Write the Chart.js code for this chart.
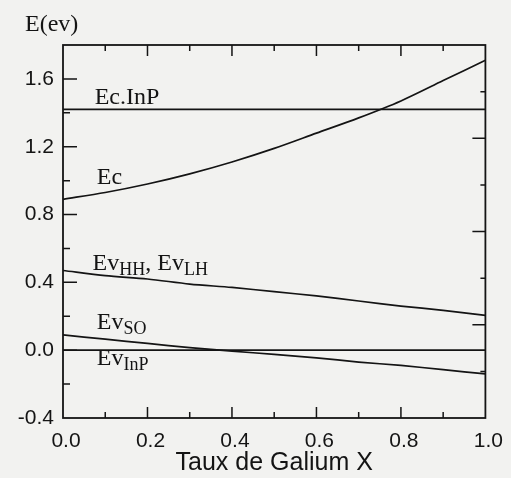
<!DOCTYPE html>
<html>
<head>
<meta charset="utf-8">
<script src="https://cdn.jsdelivr.net/npm/chart.js@4.4.1/dist/chart.umd.min.js"></script>
<style>
  html, body { margin: 0; padding: 0; background: #f2f2f0; }
  canvas { display: block; }
</style>
</head>
<body>
<canvas id="bands" width="511" height="478"></canvas>
<script>
// ====== DATA ======
const galium = [0, 0.1, 0.2, 0.3, 0.4, 0.5, 0.6, 0.7, 0.8, 0.9, 1.0];
const ec   = [0.89, 0.93, 0.98, 1.04, 1.11, 1.19, 1.28, 1.37, 1.47, 1.59, 1.71];
const evHH = [0.47, 0.44, 0.42, 0.39, 0.37, 0.345, 0.32, 0.29, 0.26, 0.235, 0.205];
const evSO = [0.09, 0.065, 0.04, 0.015, -0.005, -0.025, -0.045, -0.07, -0.09, -0.115, -0.14];

// flat InP levels, only the two ends
const galiumEnds = [0, 1];
const ecInP = [1.42, 1.42];
const evInP = [0, 0];

const xTickLabels = [0, 0.2, 0.4, 0.6, 0.8, 1.0];
const yTickLabels = [-0.4, 0, 0.4, 0.8, 1.2, 1.6];

// inner tick marks on the frame
const xMajor = [0.2, 0.4, 0.6, 0.8];
const xMinor = [0.1, 0.3, 0.5, 0.7, 0.9];
const yMajor = [0, 0.4, 0.8, 1.2, 1.6];
const yMinor = [-0.2, 0.2, 0.6, 1.0, 1.4];
const rightMajor = [2, 4, 6];
const rightMinor = [1, 3, 5, 7];

// curve names, anchored in data coordinates (left edge, baseline)
const bandLabels = [
    { x: 0.075, y: 1.453, parts: [['Ec.InP']] },
    { x: 0.08,  y: 0.982, parts: [['Ec']] },
    { x: 0.07,  y: 0.47,  parts: [['Ev'], ['HH', 1], [', Ev'], ['LH', 1]] },
    { x: 0.08,  y: 0.124, parts: [['Ev'], ['SO', 1]] },
    { x: 0.08,  y: -0.088, parts: [['Ev'], ['InP', 1]] },
];

const SERIF = '"Liberation Serif", "DejaVu Serif", serif';
const SANS = '"Liberation Sans", Arial, sans-serif';
const INK = '#141414';

function toPoints(xs, ys) {
    return xs.map((x, i) => ({ x, y: ys[i] }));
}

function line(data) {
    return {
        data,
        borderColor: INK,
        borderWidth: 1.7,
        pointRadius: 0,
        tension: 0.3,
        fill: false,
    };
}

// ====== PLUGINS ======
const framePlugin = {
    id: 'frame',
    afterDatasetsDraw(chart) {
        const { ctx, chartArea: a, scales } = chart;
        const { x, y, y2 } = scales;
        ctx.save();
        ctx.strokeStyle = INK;
        ctx.lineWidth = 1.8;
        ctx.strokeRect(a.left, a.top, a.right - a.left, a.bottom - a.top);

        ctx.lineWidth = 1.5;
        ctx.beginPath();
        const vTick = (v, len) => {
            const px = x.getPixelForValue(v);
            ctx.moveTo(px, a.bottom); ctx.lineTo(px, a.bottom - len);
            ctx.moveTo(px, a.top); ctx.lineTo(px, a.top + len);
        };
        xMajor.forEach(v => vTick(v, 11));
        xMinor.forEach(v => vTick(v, 6));

        yMajor.forEach(v => {
            const py = y.getPixelForValue(v);
            ctx.moveTo(a.left, py); ctx.lineTo(a.left + 14, py);
        });
        yMinor.forEach(v => {
            const py = y.getPixelForValue(v);
            ctx.moveTo(a.left, py); ctx.lineTo(a.left + 7, py);
        });
        rightMajor.forEach(v => {
            const py = y2.getPixelForValue(v);
            ctx.moveTo(a.right, py); ctx.lineTo(a.right - 13, py);
        });
        rightMinor.forEach(v => {
            const py = y2.getPixelForValue(v);
            ctx.moveTo(a.right, py); ctx.lineTo(a.right - 5, py);
        });
        ctx.stroke();

        // band names with subscripts
        ctx.fillStyle = INK;
        ctx.textBaseline = 'alphabetic';
        ctx.textAlign = 'left';
        bandLabels.forEach(lbl => {
            let px = x.getPixelForValue(lbl.x);
            const py = y.getPixelForValue(lbl.y);
            lbl.parts.forEach(([text, sub]) => {
                ctx.font = sub ? `18px ${SERIF}` : `24px ${SERIF}`;
                ctx.fillText(text, px, py + (sub ? 5 : 0));
                px += ctx.measureText(text).width;
            });
        });

        // axis name on top of the y axis
        ctx.font = `24px ${SERIF}`;
        ctx.fillText('E(ev)', a.left - 38, a.top - 14);
        ctx.restore();
    }
};

// ====== CHART ======
const chart = new Chart(document.getElementById('bands'), {
    type: 'line',
    data: {
        datasets: [
            line(toPoints(galiumEnds, ecInP)),
            line(toPoints(galium, ec)),
            line(toPoints(galium, evHH)),
            line(toPoints(galium, evSO)),
            line(toPoints(galiumEnds, evInP)),
        ]
    },
    options: {
        responsive: false,
        animation: false,
        layout: { padding: { top: 45, right: 21, left: 0, bottom: 0 } },
        plugins: {
            legend: { display: false },
            tooltip: { enabled: false },
        },
        scales: {
            x: {
                type: 'linear',
                min: 0,
                max: 1,
                grid: { display: false, drawTicks: false },
                border: { display: false },
                afterBuildTicks: scale => { scale.ticks = xTickLabels.map(value => ({ value })); },
                afterFit: scale => { scale.height = 60; },
                ticks: {
                    color: INK,
                    padding: 11,
                    labelOffset: 3,
                    maxRotation: 0,
                    font: { family: SANS, size: 21 },
                    callback: v => v.toFixed(1),
                },
                title: {
                    display: true,
                    text: 'Taux de Galium X',
                    color: INK,
                    font: { family: SANS, size: 25 },
                    padding: { top: 0, bottom: 0 },
                },
            },
            y: {
                type: 'linear',
                min: -0.4,
                max: 1.8,
                grid: { display: false, drawTicks: false },
                border: { display: false },
                afterBuildTicks: scale => { scale.ticks = yTickLabels.map(value => ({ value })); },
                afterFit: scale => { scale.width = 63; },
                ticks: {
                    color: INK,
                    padding: 9,
                    font: { family: SANS, size: 21 },
                    callback: v => v.toFixed(1),
                },
            },
            y2: {
                type: 'linear',
                position: 'right',
                display: false,
                min: 0,
                max: 8,
            },
        },
    },
    plugins: [framePlugin],
});
</script>
</body>
</html>
